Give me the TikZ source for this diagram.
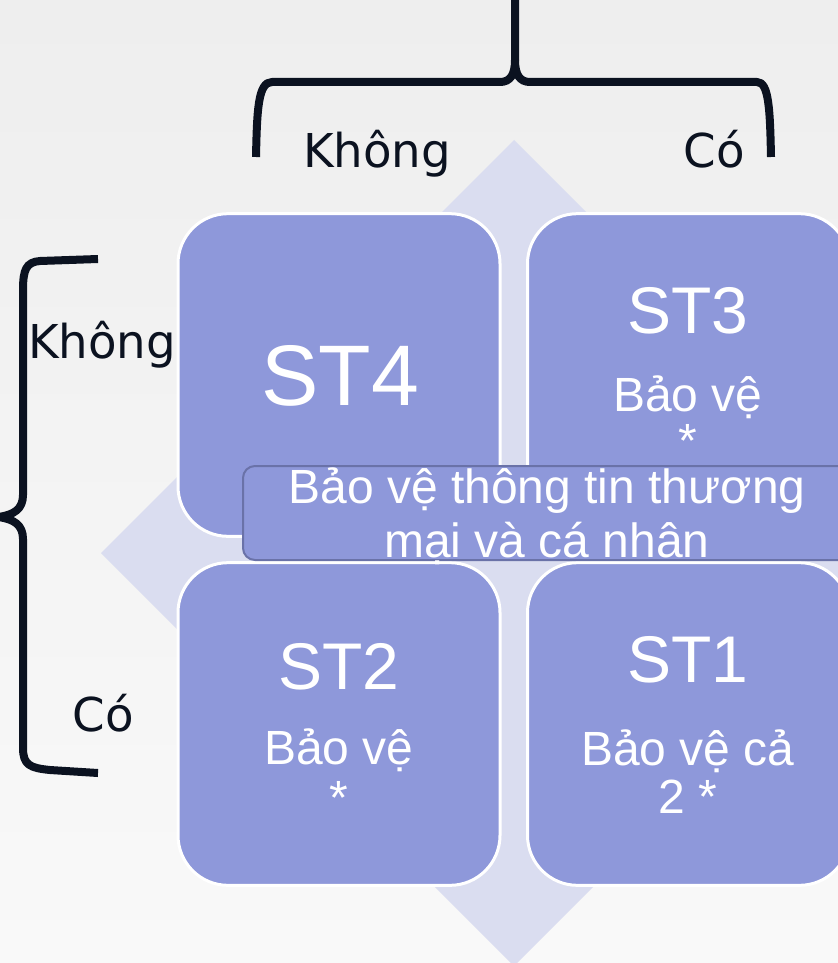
\documentclass[tikz,border=0pt]{standalone}
\usepackage{fontspec}
\setmainfont{Liberation Sans}
\newfontfamily\lblfont{DejaVu Sans}
\definecolor{bgA}{HTML}{EEEEEE}
\definecolor{bgB}{HTML}{F9F9F9}
\definecolor{diamondfill}{HTML}{DADDF0}
\definecolor{cellfill}{HTML}{8E98DA}
\definecolor{lblborder}{HTML}{6A72A8}
\definecolor{inkdark}{HTML}{0B1220}
\begin{document}
\begin{tikzpicture}[x=0.75pt,y=-0.75pt,
  cell/.style={draw=white,line width=2.25pt,fill=cellfill,rounded corners=37.5pt,
    minimum width=241.5pt,minimum height=242pt,inner sep=0pt,outer sep=0pt},
  lblbox/.style={draw=lblborder,line width=1.5pt,fill=cellfill,rounded corners=9pt,
    minimum width=456pt,minimum height=70.5pt,inner sep=0pt,outer sep=0pt},
  ctext/.style={text=white,anchor=base,inner sep=0pt},
  bigtitle/.style={ctext,font=\fontsize{64.5}{70}\selectfont},
  title/.style={ctext,font=\fontsize{49.5}{55}\selectfont},
  sub/.style={ctext,font=\fontsize{36}{40}\selectfont},
  mid/.style={ctext,font=\fontsize{36}{40}\selectfont},
  axis/.style={text=inkdark,anchor=base,inner sep=0pt,font=\lblfont\fontsize{35}{38}\selectfont},
  bracestroke/.style={draw=inkdark,line width=6pt,line join=round}]
\useasboundingbox (0,0) rectangle (838,963);
\shade[top color=bgA,bottom color=bgB] (0,0) rectangle (838,963);
% diamond
\fill[diamondfill] (514,140) -- (927,553) -- (514,966) -- (101,553) -- cycle;
% cells
\node[cell] (st4) at (339,375) {};
\node[cell] (st3) at (688.5,375) {};
\node[cell] (st2) at (339,724) {};
\node[cell] (st1) at (688.5,724) {};
% cell texts
\node[bigtitle] (t4) at (340,405) {ST4};
\node[title] (t3) at (688,333) {ST3};
\node[sub] (t3a) at (688,411) {Bảo vệ};
\node[sub] (t3b) at (688,457) {*};
\node[title] (t2) at (339,689) {ST2};
\node[sub] (t2a) at (339,764) {Bảo vệ};
\node[sub] (t2b) at (339,814) {*};
\node[title] (t1) at (688,682) {ST1};
\node[sub] (t1a) at (688,765) {Bảo vệ cả};
\node[sub] (t1b) at (688,813) {2 *};
% middle label
\node[lblbox] (mid) at (547,513) {};
\node[mid] (m1) at (547,503) {Bảo vệ thông tin thương};
\node[mid] (m2) at (547,557) {mại và cá nhân};
% axis labels
\node[axis] (topno) at (377,167) {Không};
\node[axis] (topyes) at (714,167) {Có};
\node[axis] (leftno) at (102,358) {Không};
\node[axis] (leftyes) at (103,731) {Có};
% top brace
\draw[bracestroke] (256,157) .. controls (257,110) and (258,82) .. (272,82)
  -- (500,82) .. controls (510,82) and (515,75) .. (515,60) -- (515,-6);
\draw[bracestroke] (515,60) .. controls (515,75) and (520,82) .. (530,82)
  -- (757,82) .. controls (769,82) and (770,110) .. (771,157);
% left brace
\draw[bracestroke] (98,259) -- (40,261) .. controls (26,262) and (23,270) .. (23,290)
  -- (23,495) .. controls (23,509) and (14,515) .. (-2,517)
  .. controls (14,519) and (23,525) .. (23,539) -- (23,748)
  .. controls (23,765) and (30,768) .. (50,770) -- (98,773);
\end{tikzpicture}
\end{document}
